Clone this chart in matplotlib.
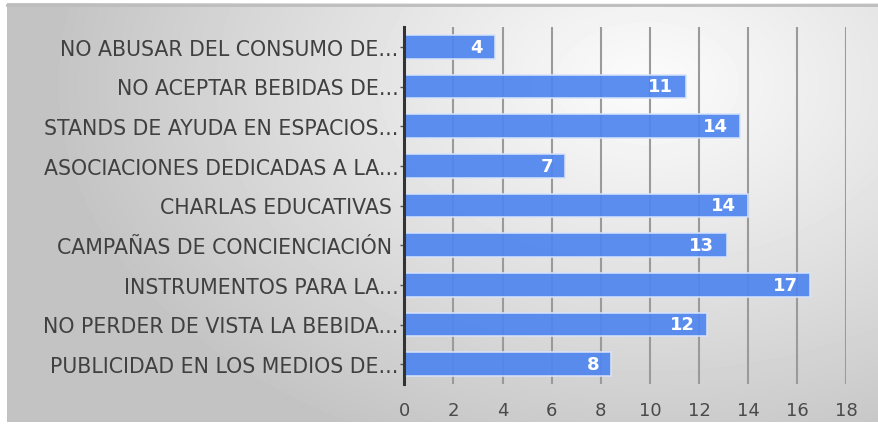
import numpy as np
import matplotlib
matplotlib.use('Agg')
import matplotlib.pyplot as plt

# datos (de arriba a abajo)
categorias = ['NO ABUSAR DEL CONSUMO DE...',
              'NO ACEPTAR BEBIDAS DE...',
              'STANDS DE AYUDA EN ESPACIOS...',
              'ASOCIACIONES DEDICADAS A LA...',
              'CHARLAS EDUCATIVAS ',
              'CAMPAÑAS DE CONCIENCIACIÓN ',
              'INSTRUMENTOS PARA LA...',
              'NO PERDER DE VISTA LA BEBIDA...',
              'PUBLICIDAD EN LOS MEDIOS DE...']
valores = [3.71, 11.46, 13.66, 6.55, 13.99, 13.13, 16.53, 12.34, 8.43]
ticks_x = [0, 2, 4, 6, 8, 10, 12, 14, 16, 18]

plt.rcParams['font.family'] = ['DejaVu Sans']

W, H = 879, 427
fig = plt.figure(figsize=(W/100, H/100), dpi=100)
fig.patch.set_facecolor('white')

# fondo con degradado radial
bg = fig.add_axes([7/W, 4/H, 872/W, 419/H])
yy, xx = np.mgrid[0:419, 0:872]
d = np.sqrt(((xx - 640) / 600.0)**2 + ((yy - 80) / 400.0)**2)
d = np.clip(d, 0, 1)
grad = 0.985 - 0.22 * d**1.1
bg.imshow(grad, cmap='gray', vmin=0, vmax=1, aspect='auto', interpolation='bilinear')
bg.set_axis_off()
# linea superior
fig.add_artist(plt.Line2D([7/W, 1], [1 - 6/H, 1 - 6/H], color='#bdbdbd', lw=2))

ax = fig.add_axes([404.3/W, 1 - 385/H, 442/W, 357/H])
ax.patch.set_alpha(0)
y = np.arange(len(categorias))
barras = ax.barh(y, valores, height=0.6, color='#4f86ee', alpha=0.93,
                 edgecolor='#d8e4fb', linewidth=1.2, zorder=3)
for yi, v in zip(y, valores):
    ax.text(v - 0.5, yi, '{:.0f}'.format(v), ha='right', va='center',
            color='white', fontsize=13, fontweight='bold', zorder=4)

ax.set_ylim(len(categorias) - 0.5, -0.5)
ax.set_xlim(0, 18)
ax.set_xticks(ticks_x)
ax.set_yticks(y)
ax.set_yticklabels(categorias, fontsize=14.8, color='#404040')
ax.xaxis.grid(True, color='#9a9a9a', lw=1.5, zorder=0)
ax.set_axisbelow(True)
ax.tick_params(axis='x', length=0, pad=12, labelsize=13, labelcolor='#4a4a4a')
ax.tick_params(axis='y', length=3, width=1, color='#555555', pad=1)
for s in ['top', 'right', 'bottom']:
    ax.spines[s].set_visible(False)
ax.spines['left'].set_color('#333333')
ax.spines['left'].set_linewidth(2.2)
ax.spines['left'].set_zorder(5)

fig.savefig('out.png', dpi=100)
